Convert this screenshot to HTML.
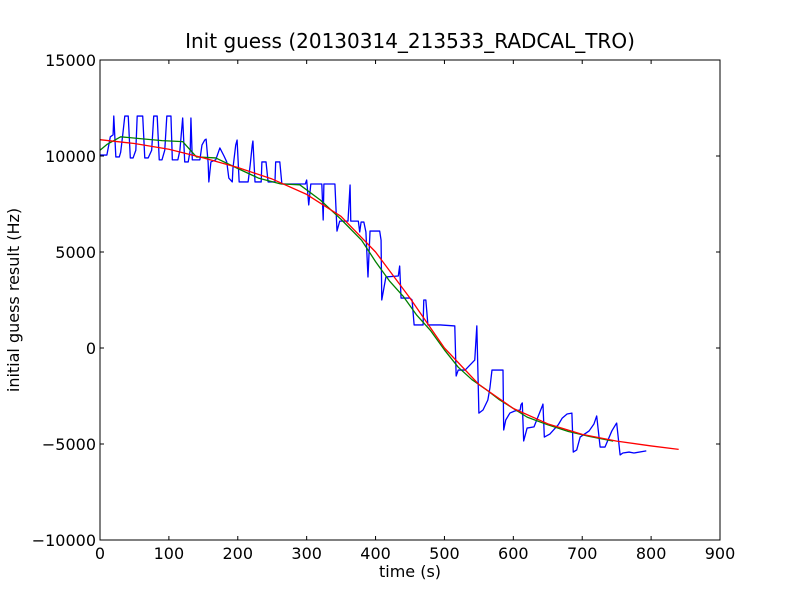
<!DOCTYPE html>
<html><head><meta charset="utf-8"><style>
body{margin:0;background:#fff;}
svg{display:block;font-family:"DejaVu Sans","Liberation Sans",sans-serif;}
</style></head><body>
<svg id="chart" width="800" height="600" xmlns="http://www.w3.org/2000/svg">
<rect width="800" height="600" fill="#fff"/>
<text x="410" y="48" font-size="20" text-anchor="middle">Init guess (20130314_213533_RADCAL_TRO)</text>
<text x="410" y="577" font-size="16" text-anchor="middle">time (s)</text>
<text transform="translate(19,300) rotate(-90)" font-size="16" text-anchor="middle">initial guess result (Hz)</text>
<g id="plot"></g>
</svg>
<script>
const xTicks=[0,100,200,300,400,500,600,700,800,900];
const yTicks=[-10000,-5000,0,5000,10000,15000];
const blueT=[0,10,15,19,20,23,28,30,33,36,41,44,48,52,54,62,65,70,75,78,83,86,90,94,97,103,105,113,116,120,123,128,131,132,134,145,148,152,154,157,158,161,168,174,180,184,187,192,193,197,199,202,215,218,221,222,225,234,235,241,244,254,255,261,264,298,300,303,306,322,324,325,341,344,348,360,363,364,375,377,379,383,386,389,392,406,408,409,415,433,435,437,450,453,456,469,470,473,476,494,515,517,520,530,544,547,550,556,563,566,569,585,586,589,595,602,610,611,613,615,620,630,642,643,645,653,665,671,678,685,687,692,697,710,717,721,726,733,743,749,750,755,759,768,775,793];
const blueV=[10050,10050,11000,11100,12080,9950,9950,10200,11100,12080,12080,9900,9900,10300,12080,12080,9900,9900,10300,12080,12080,9800,9800,10300,12080,12080,9800,9800,10300,11980,9690,9690,10300,11980,9800,9800,10570,10830,10880,9630,8650,9690,9800,10420,10000,9690,8850,8650,9370,10570,10830,8650,8650,9530,10570,10780,8650,8650,9690,9690,8650,8650,9690,9690,8540,8540,8750,7450,8540,8540,6670,8540,8540,6090,6610,6610,8490,6610,6610,6040,6560,6560,6040,3700,6090,6090,5620,2500,3700,3750,4270,2600,2600,2500,1200,1200,2500,2500,1200,1200,1150,-1460,-1150,-1150,-630,1150,-3390,-3230,-2710,-2080,-1150,-1150,-4270,-3750,-3390,-3280,-3230,-2970,-2860,-4840,-4170,-4110,-3020,-2920,-4640,-4480,-4010,-3650,-3440,-3390,-5420,-5310,-4640,-4320,-3960,-3540,-5160,-5160,-4320,-3960,-3910,-5570,-5470,-5420,-5470,-5360];
const greenT=[0,10,30,60,90,120,140,168,200,230,262,290,320,350,380,400,420,440,460,480,500,520,540,560,580,600,620,650,680,710,745];
const greenV=[10300,10600,11000,10900,10800,10750,9950,9900,9350,8850,8550,8500,7700,6700,5600,4500,3500,2700,1700,900,-100,-1000,-1650,-2150,-2700,-3150,-3600,-4000,-4350,-4600,-4850];
const redT=[0,50,100,150,200,250,300,350,400,450,500,550,600,650,700,750,800,840];
const redV=[10850,10650,10350,9900,9400,8800,8000,6850,5000,2600,0,-1900,-3150,-3950,-4500,-4850,-5100,-5280];

const L=100,R=720,T=60,B=540;
const xs=t=>L+(t-0)/(900-0)*(R-L);
const ys=v=>B-(v+10000)/25000*(B-T);
const NS='http://www.w3.org/2000/svg';
const g=document.getElementById('plot');
function mk(tag,attrs){const e=document.createElementNS(NS,tag);for(const k in attrs)e.setAttribute(k,attrs[k]);g.appendChild(e);return e;}
function line(T_,V_,color,name){
  const d=T_.map((t,i)=>(i?'L':'M')+xs(t).toFixed(2)+','+ys(V_[i]).toFixed(2)).join('');
  const p=mk('path',{d:d,fill:'none',stroke:color,'stroke-width':1.3,'stroke-linejoin':'round'});
  
  
}
line(blueT,blueV,'#0000ff','series-blue-raw');
line(greenT,greenV,'#008000','series-green-smoothed');
line(redT,redV,'#ff0000','series-red-fit');
const frame=mk('rect',{x:L,y:T,width:R-L,height:B-T,fill:'none',stroke:'#000','stroke-width':1});


xTicks.forEach(t=>{
  const x=xs(t);
  mk('line',{x1:x,x2:x,y1:B,y2:B-4,stroke:'#000'});
  mk('line',{x1:x,x2:x,y1:T,y2:T+4,stroke:'#000'});
  const tx=mk('text',{x:x,y:B+19,'font-size':16,'text-anchor':'middle'});
  tx.textContent=t;
  
  
});
yTicks.forEach(v=>{
  const y=ys(v);
  mk('line',{x1:L,x2:L+4,y1:y,y2:y,stroke:'#000'});
  mk('line',{x1:R,x2:R-4,y1:y,y2:y,stroke:'#000'});
  const tx=mk('text',{x:L-4,y:y+6,'font-size':16,'text-anchor':'end'});
  tx.textContent=v<0?'\u2212'+Math.abs(v):v;
  
  
});
</script>
</body></html>
